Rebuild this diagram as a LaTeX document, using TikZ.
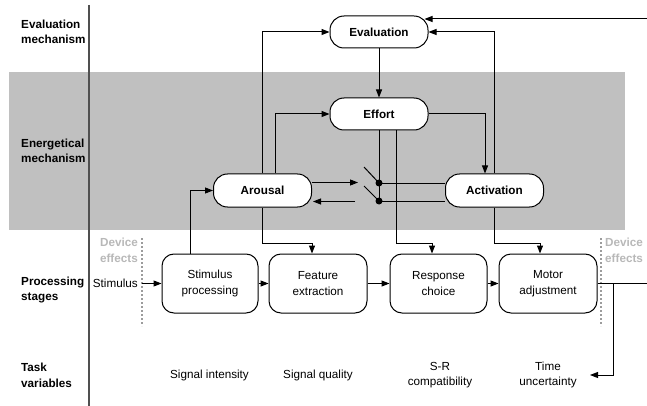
\documentclass[tikz,border=0pt]{standalone}
\usepackage{fontspec}
\setmainfont{Liberation Sans}
\usetikzlibrary{arrows.meta}
\definecolor{band}{HTML}{C0C0C0}
\definecolor{devgrey}{HTML}{B8B8B8}
\definecolor{sepgrey}{HTML}{505050}
\tikzset{
  base/.style={font=\fontsize{11.7}{15.5}\selectfont},
  mech/.style={base, draw, fill=white, line width=1pt, rounded corners=14pt, minimum width=98pt, minimum height=32pt, inner sep=0pt, font=\fontsize{11.7}{15.5}\selectfont\bfseries},
  stage/.style={base, draw, fill=white, line width=1pt, rounded corners=12pt, minimum width=97pt, minimum height=59pt, inner sep=0pt, align=center},
  rowlabel/.style={font=\fontsize{11.7}{15.5}\selectfont\bfseries, align=left, anchor=west, inner sep=0pt},
  devtext/.style={font=\fontsize{11.7}{15.5}\selectfont\bfseries, text=devgrey, align=left, inner sep=0pt},
  taskvar/.style={base, align=center, inner sep=0pt},
  conn/.style={line width=1pt},
  arr/.style={conn, -{Triangle[length=8pt,width=6pt]}},
  devline/.style={draw=devgrey!85!black, line width=1.2pt, dash pattern=on 2.2pt off 1.8pt},
  dot/.style={circle, fill=black, inner sep=0pt, minimum size=7pt}
}
\begin{document}
\begin{tikzpicture}[x=1pt,y=-1pt]
\useasboundingbox (0,0) rectangle (647,406);
% band
\fill[band] (9,72) rectangle (625,230);
% separator
\draw[sepgrey, line width=1.5pt] (89,5) -- (89,406);
% row labels
\node[rowlabel] (l1) at (21,32) {Evaluation\\mechanism};
\node[rowlabel] (l2) at (21,151) {Energetical\\mechanism};
\node[rowlabel] (l3) at (21,290) {Processing\\stages};
\node[rowlabel] (l4) at (21,375.5) {Task\\variables};
% mechanisms
\node[mech] (eval) at (379,32) {Evaluation};
\node[mech] (effort) at (379,114) {Effort};
\node[mech, minimum height=33pt] (arousal) at (262.5,190.5) {Arousal};
\node[mech, minimum height=33pt] (activation) at (494.5,190.5) {Activation};
% stages
\node[stage, minimum width=96pt] (stim) at (210,283.5) {Stimulus\\processing};
\node[stage, minimum width=98pt] (feat) at (318,283.5) {Feature\\extraction};
\node[stage] (resp) at (438.5,283.5) {Response\\choice};
\node[stage, minimum width=98pt] (motor) at (548,283.5) {Motor\\adjustment};
% device effects
\node[devtext, anchor=east] (dev1) at (138,250.5) {Device\\effects};
\node[devtext, anchor=west] (dev2) at (605,250.5) {Device\\effects};
\coordinate (d1t) at (142,238); \coordinate (d1b) at (142,326);
\coordinate (d2t) at (601,238); \coordinate (d2b) at (601,326);
\draw[devline] (d1t) -- (d1b);
\draw[devline] (d2t) -- (d2b);
% stimulus
\node[base, anchor=east, inner sep=0pt] (stimulus) at (138,283.5) {Stimulus};
\coordinate (stimin) at (142,283.5);
\draw[arr] (stimin) -- (stim.west);
% task variables
\node[taskvar] (tv1) at (209.5,375) {Signal intensity};
\node[taskvar] (tv2) at (318,375) {Signal quality};
\node[taskvar] (tv3) at (440,375) {S-R\\compatibility};
\node[taskvar] (tv4) at (548,375) {Time\\uncertainty};
% stage chain
\draw[arr] (stim.east) -- (feat.west);
\draw[arr] (feat.east) -- (resp.west);
\draw[arr] (resp.east) -- (motor.west);
% output
\coordinate (rmid) at (647,283.5);
\coordinate (br) at (613,283.5);
\coordinate (tuin) at (590,375);
\draw[conn] (motor.east) -- (rmid);
\draw[arr] (br) |- (tuin);
% top feedback
\coordinate (rtop) at (647,19);
\draw[arr] (rtop) -- ([xshift=-4pt]eval.east |- rtop);
% mechanism connections
\draw[arr] (arousal.north) |- (eval.west);
\draw[arr] ([xshift=12.5pt]arousal.north) |- (effort.west);
\draw[arr] (activation.north) |- (eval.east);
\draw[arr] (eval.south) -- (effort.north);
\draw[arr] (effort.east) -| ([xshift=-9.5pt]activation.north);
\draw[arr] ([xshift=-20pt]stim.north) |- (arousal.west);
\draw[arr] (arousal.south) -- ++(0,36) -| ([xshift=-6pt]feat.north);
\draw[arr] (activation.south) -- ++(0,36) -| ([xshift=-8pt]motor.north);
\draw[arr] ([xshift=17pt]effort.south) -- ++(0,113) -| ([xshift=-6.5pt]resp.north);
% switch
\coordinate (sw1) at (379,183);
\coordinate (sw2) at (379,201);
\coordinate (swin) at (358,182.5);
\coordinate (swout) at (355,201.5);
\draw[conn] (effort.south) -- (sw2);
\draw[conn] (sw1) -- (activation.west |- sw1);
\draw[conn] (sw2) -- (activation.west |- sw2);
\draw[conn] (sw1) -- ++(-15,-16);
\draw[conn] (sw2) -- ++(-15,-15);
\node[dot] (dot1) at (sw1) {};
\node[dot] (dot2) at (sw2) {};
\draw[arr] (arousal.east |- swin) -- (swin);
\draw[arr] (swout) -- ([xshift=1pt]arousal.east |- swout);
\end{tikzpicture}
\end{document}
